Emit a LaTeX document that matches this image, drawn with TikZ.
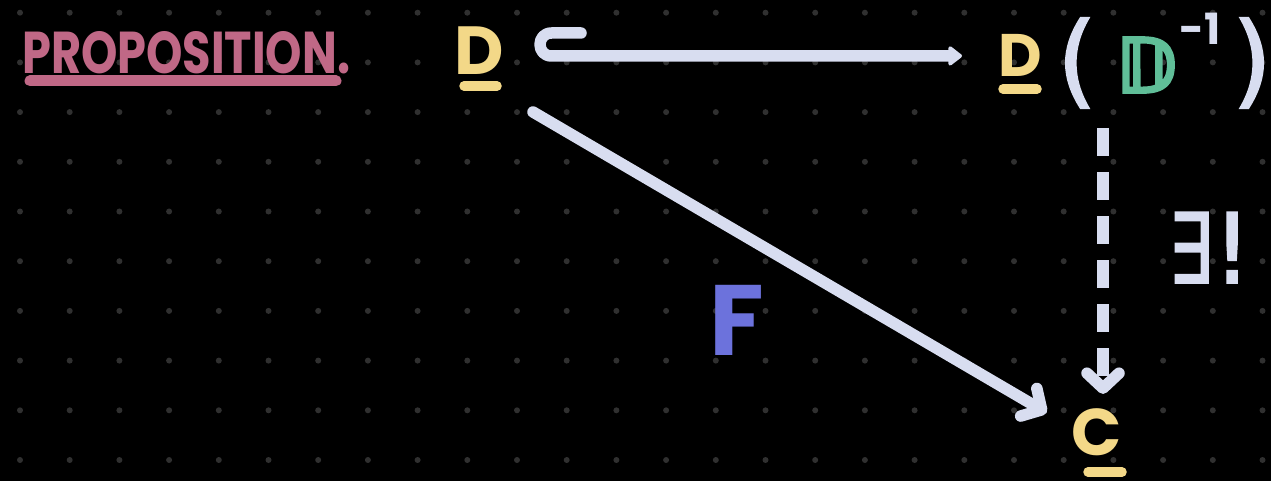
\documentclass[tikz,border=0pt]{standalone}
\usepackage{fontspec}
\usepackage{graphicx}
\usetikzlibrary{arrows.meta}
\newfontfamily\hand{Poppins}
\newfontfamily\dvmed{DejaVu Sans}[FakeBold=2]
\newfontfamily\dvfat{DejaVu Sans}[FakeBold=5]
\definecolor{bgdot}{RGB}{48,48,48}
\definecolor{pinkc}{RGB}{192,104,134}
\definecolor{yel}{RGB}{243,216,136}
\definecolor{lav}{RGB}{216,221,240}
\definecolor{bluef}{RGB}{108,114,220}
\definecolor{grn}{RGB}{96,190,152}
\tikzset{
  lbl/.style={inner sep=0pt, anchor=base},
  conn/.style={draw=lav, line width=11.5pt, line cap=round, line join=round},
  barb/.style={-{Straight Barb[round,length=15pt,width=32pt]}},
  tri/.style={-{Triangle[round,length=15pt,width=22pt]}},
  uline/.style={line width=9.5pt, line cap=round},
  dashconn/.style={draw=lav, line width=11.5pt, line cap=butt, dash pattern=on 28pt off 16pt}
}
\begin{document}
\begin{tikzpicture}[x=1pt,y=-1pt]
\useasboundingbox (0,0) rectangle (1271,481);
\fill[black] (0,0) rectangle (1271,481);
\foreach \i in {0,...,25}{\foreach \j in {0,...,9}{\fill[bgdot] ({20+49.7*\i},{12.7+49.7*\j}) circle[radius=3];}}
% title
\node[lbl, anchor=base west, text=pinkc] (title) at (22,74) {\resizebox{328pt}{42pt}{\hand\bfseries PROPOSITION.}};
\draw[pinkc, line width=11pt, line cap=round] (30,81) -- (336,81);
% nodes
\node[lbl, text=yel] (a) at (479,75) {\fontsize{68}{70}\selectfont\hand\bfseries D};
\draw[yel, uline] (464,86) -- (497,86);
\node[lbl, text=yel] (b) at (1020,77) {\fontsize{60}{62}\selectfont\hand\bfseries D};
\draw[yel, uline] (1003,89) -- (1037,89);
\node[inner sep=0pt, text=lav] (lp) at (1077,63) {\resizebox*{!}{90pt}{\dvmed (}};
\node[lbl, text=grn] (dd) at (1146,92) {\fontsize{74}{76}\selectfont\dvfat 𝔻};
\node[lbl, text=lav] (sup) at (1200,45) {\fontsize{43}{45}\selectfont\hand\bfseries -1};
\node[inner sep=0pt, text=lav] (rp) at (1252,63) {\resizebox*{!}{90pt}{\dvmed )}};
\node[lbl, text=yel] (c) at (1097,455) {\fontsize{66}{68}\selectfont\hand\bfseries C};
\draw[yel, uline] (1088,472) -- (1122,472);
\node[lbl, text=bluef] (f) at (737,355) {\fontsize{100}{102}\selectfont\hand\bfseries F};
\node[lbl, text=lav] (ex) at (1210,283) {\fontsize{97}{99}\selectfont\dvmed\scalebox{0.72}[1]{∃}!};
% connectors
\coordinate (hk) at (581,33);
\coordinate (ds) at (533,112);
\coordinate (dt) at (1103,128);
\draw[conn, tri] (hk) -- (551.5,33) .. controls (536.2,33) and (536.2,56) .. (551.5,56) -- ([xshift=-36pt]b.west);
\draw[conn, barb] (ds) -- ([xshift=-25pt,yshift=19pt]c.west);
\draw[dashconn, barb] (dt) -- ([xshift=6pt,yshift=14pt]c.north);
\end{tikzpicture}
\end{document}
